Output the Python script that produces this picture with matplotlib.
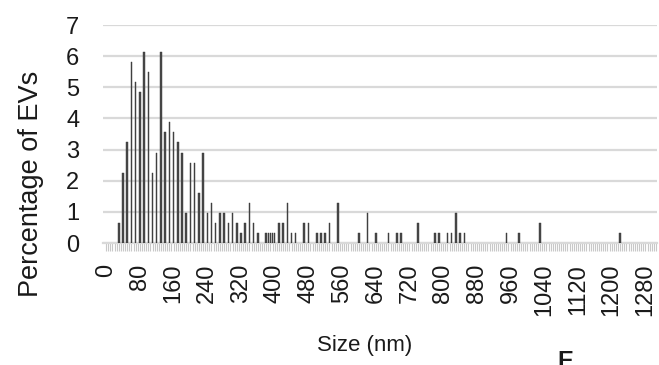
import numpy as np
import matplotlib
matplotlib.use("Agg")
import matplotlib.pyplot as plt

# size bins (nm) and percentage of EVs
sizes_nm = [30, 40, 50, 60, 70, 80, 90, 100, 110, 120,
            130, 140, 150, 160, 170, 180, 190, 200, 210, 220,
            230, 240, 250, 260, 270, 280, 290, 300, 310, 320,
            330, 340, 350, 360, 380, 385, 390, 395, 400, 410,
            420, 430, 440, 450, 470, 480, 500, 510, 520, 530,
            550, 600, 620, 640, 670, 690, 700, 740, 780, 790,
            810, 820, 830, 840, 850, 950, 980, 1030, 1220]
pct_evs = [0.65, 2.26, 3.23, 5.81, 5.16, 4.84, 6.13, 5.48, 2.26, 2.90,
           6.13, 3.55, 3.87, 3.55, 3.23, 2.90, 0.97, 2.58, 2.58, 1.61,
           2.90, 0.97, 1.29, 0.65, 0.97, 0.97, 0.65, 0.97, 0.65, 0.32,
           0.65, 1.29, 0.65, 0.32, 0.32, 0.32, 0.32, 0.32, 0.32, 0.65,
           0.65, 1.29, 0.32, 0.32, 0.65, 0.65, 0.32, 0.32, 0.32, 0.65,
           1.29, 0.32, 0.97, 0.32, 0.32, 0.32, 0.32, 0.65, 0.32, 0.32,
           0.32, 0.32, 0.97, 0.32, 0.32, 0.32, 0.32, 0.65, 0.32]
xtick_labels = [str(v) for v in range(0, 1281, 80)]

plt.rcParams['font.family'] = ['Liberation Sans', 'DejaVu Sans']

fig = plt.figure(figsize=(6.59, 3.65), dpi=100)
ax = fig.add_axes([103/659, 1-243/365, 554/659, 218/365])

ax.bar(sizes_nm, pct_evs, width=3.6, color="#4a4a4a", edgecolor="#333333",
       linewidth=0.3, zorder=3)

# axes
ax.set_xlim(-7.5, 1307.5)
ax.set_ylim(0, 7)
ax.set_yticks(range(0, 8))
ax.tick_params(axis="y", length=0, pad=17, labelsize=17, labelcolor="#1a1a1a")
ax.set_xticks([int(t) for t in xtick_labels])
ax.set_xticklabels(xtick_labels, rotation=90)
ax.set_xticks(np.arange(0, 1306, 5), minor=True)
ax.tick_params(axis="x", which="both", length=6, width=0.8, color="#c8c8c8",
               labelsize=17, labelcolor="#1a1a1a", pad=9)
ax.grid(axis="y", color="#d9d9d9", linewidth=1.6, zorder=0)
for s in ["top", "right", "left"]:
    ax.spines[s].set_visible(False)
ax.spines["bottom"].set_color("#d9d9d9")
ax.spines["bottom"].set_linewidth(1.6)

fig.text(31/659, 1-184/365, "Percentage of EVs", rotation=90, ha="center", va="center",
         fontsize=19.5, color="#1a1a1a")
fig.text(365/659, 1-345/365, "Size (nm)", ha="center", va="center",
         fontsize=16, color="#1a1a1a")
fig.text(565/659, 1-350/365, "E", ha="center", va="top", fontsize=17,
         fontweight="bold", color="#1a1a1a")

fig.savefig("out.png", dpi=100)
